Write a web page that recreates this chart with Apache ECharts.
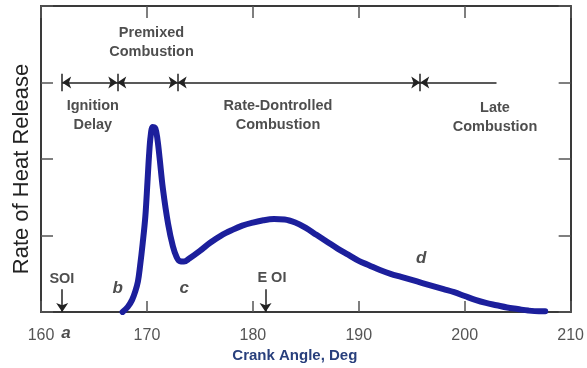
<!DOCTYPE html>
<html><head><meta charset="utf-8">
<script src="https://cdn.jsdelivr.net/npm/echarts@6/dist/echarts.min.js"></script>
<style>html,body{margin:0;padding:0;background:#fff}#c{width:587px;height:368px}</style>
</head><body><div id="c"></div>
<script>
// Crank angle (deg) and rate of heat release (arbitrary units)
const crankAngle = [167.7,168.2,168.6,168.9,169.15,169.35,169.6,169.85,170.05,170.2,170.35,170.55,170.8,171.0,171.2,171.5,172.0,172.45,172.8,173.1,173.5,174.0,175.0,176.0,177.0,178.0,179.0,180.0,181.0,182.0,183.0,184.0,185.0,186.0,187.0,188.0,189.0,190.0,191.0,192.0,193.0,194.0,195.0,196.0,197.0,198.0,199.0,200.0,201.0,202.0,203.0,204.0,205.0,206.0,207.0,207.6];
const heatRelease = [0.0,0.07,0.16,0.27,0.40,0.60,0.90,1.25,1.70,2.05,2.30,2.42,2.40,2.25,2.01,1.62,1.15,0.86,0.72,0.665,0.66,0.70,0.80,0.91,1.00,1.07,1.13,1.17,1.20,1.215,1.21,1.17,1.10,1.01,0.92,0.83,0.75,0.67,0.61,0.55,0.50,0.46,0.42,0.38,0.34,0.30,0.26,0.21,0.16,0.12,0.09,0.06,0.04,0.02,0.01,0.01];
const xTicks = [160,170,180,190,200,210];
// phase boundaries on the arrow line (deg)
const phaseBounds = [162.0,167.2,172.9,195.8];
const phaseLineEnd = 203.0;
const phaseLevel = 3;
// text annotations: [angle, level, text]
const phaseLabels = [
  [170.43,3.52,'Premixed\nCombustion'],
  [164.89,2.57,'Ignition\nDelay'],
  [182.37,2.57,'Rate-Dontrolled\nCombustion'],
  [202.86,2.54,'Late\nCombustion'],
  [161.97,0.43,'SOI'],
  [181.8,0.44,'E OI']
];
const pointLetters = [
  [167.24,0.31,'b'],
  [173.53,0.31,'c'],
  [195.9,0.70,'d'],
  [162.35,-0.28,'a']
];
const injectionMarks = [162.0,181.2];

const chart = echarts.init(document.getElementById('c'), null, {renderer:'canvas'});
const FONT = 'Liberation Sans, Arial, sans-serif';
const axisLine = {show:true, onZero:false, lineStyle:{color:'#3a3a3a', width:2}};

const segs = [];
const allB = phaseBounds.concat([phaseLineEnd]);
for (let i=0;i<allB.length-1;i++){
  const last = i===allB.length-2;
  segs.push([{coord:[allB[i],phaseLevel], symbol:'arrow'},{coord:[allB[i+1],phaseLevel], symbol: last?'none':'arrow'}]);
}
phaseBounds.forEach(b=>segs.push([{coord:[b,phaseLevel-0.115],symbol:'none'},{coord:[b,phaseLevel+0.115],symbol:'none'}]));
injectionMarks.forEach(b=>segs.push([{coord:[b,0.30],symbol:'none'},{coord:[b,0.0],symbol:'arrow'}]));

chart.setOption({
  animation:false,
  grid:{left:41,right:14,top:6,bottom:52},
  xAxis:[{
    type:'value',min:160,max:210,interval:10,
    axisLine:axisLine,
    axisTick:{show:true,inside:true,length:11,lineStyle:{color:'#555',width:1.5}},
    splitLine:{show:false},
    axisLabel:{color:'#555',fontSize:16,fontFamily:FONT,margin:15,formatter:v=>xTicks.includes(v)?String(v):''},
    name:'Crank Angle, Deg',nameLocation:'middle',nameGap:31,
    nameTextStyle:{color:'#283f7c',fontSize:15,fontWeight:'bold',fontFamily:FONT,padding:[0,22,0,0]}
  },{
    type:'value',position:'top',min:160,max:210,interval:10,
    axisLine:axisLine,
    axisTick:{show:true,inside:true,length:12,lineStyle:{color:'#555',width:1.5}},
    axisLabel:{show:false},splitLine:{show:false}
  }],
  yAxis:[{
    type:'value',min:0,max:4,interval:1,
    axisLine:axisLine,
    axisTick:{show:true,inside:true,length:12,lineStyle:{color:'#555',width:1.5}},
    axisLabel:{show:false},splitLine:{show:false},
    name:'Rate of Heat Release',nameLocation:'middle',nameGap:8,
    nameTextStyle:{color:'#222',fontSize:22,fontFamily:FONT,padding:[0,20,0,0]}
  },{
    type:'value',position:'right',min:0,max:4,interval:1,
    axisLine:axisLine,
    axisTick:{show:true,inside:true,length:12,lineStyle:{color:'#555',width:1.5}},
    axisLabel:{show:false},splitLine:{show:false}
  }],
  series:[{
    type:'line',
    data:crankAngle.map((x,i)=>[x,heatRelease[i]]),
    showSymbol:false,symbol:'none',
    smooth:0.35,
    lineStyle:{color:'#1c1f9c',width:6,cap:'round',join:'round'},
    z:3
  },{
    type:'scatter',
    clip:false,
    symbolSize:0,
    data:phaseLabels,
    label:{show:true,position:'inside',formatter:p=>p.data[2],color:'#222',fontSize:14.5,fontWeight:'bold',fontFamily:FONT,lineHeight:19,align:'center'},
    markLine:{
      silent:true,
      symbolSize:[9,9],
      label:{show:false},
      lineStyle:{color:'#222',width:1.5,type:'solid'},
      data:segs
    },
    z:4
  },{
    type:'scatter',
    clip:false,
    symbolSize:0,
    data:pointLetters,
    label:{show:true,position:'inside',formatter:p=>p.data[2],color:'#222',fontSize:17,fontWeight:'bold',fontStyle:'italic',fontFamily:FONT},
    z:4
  }]
});
</script></body></html>
